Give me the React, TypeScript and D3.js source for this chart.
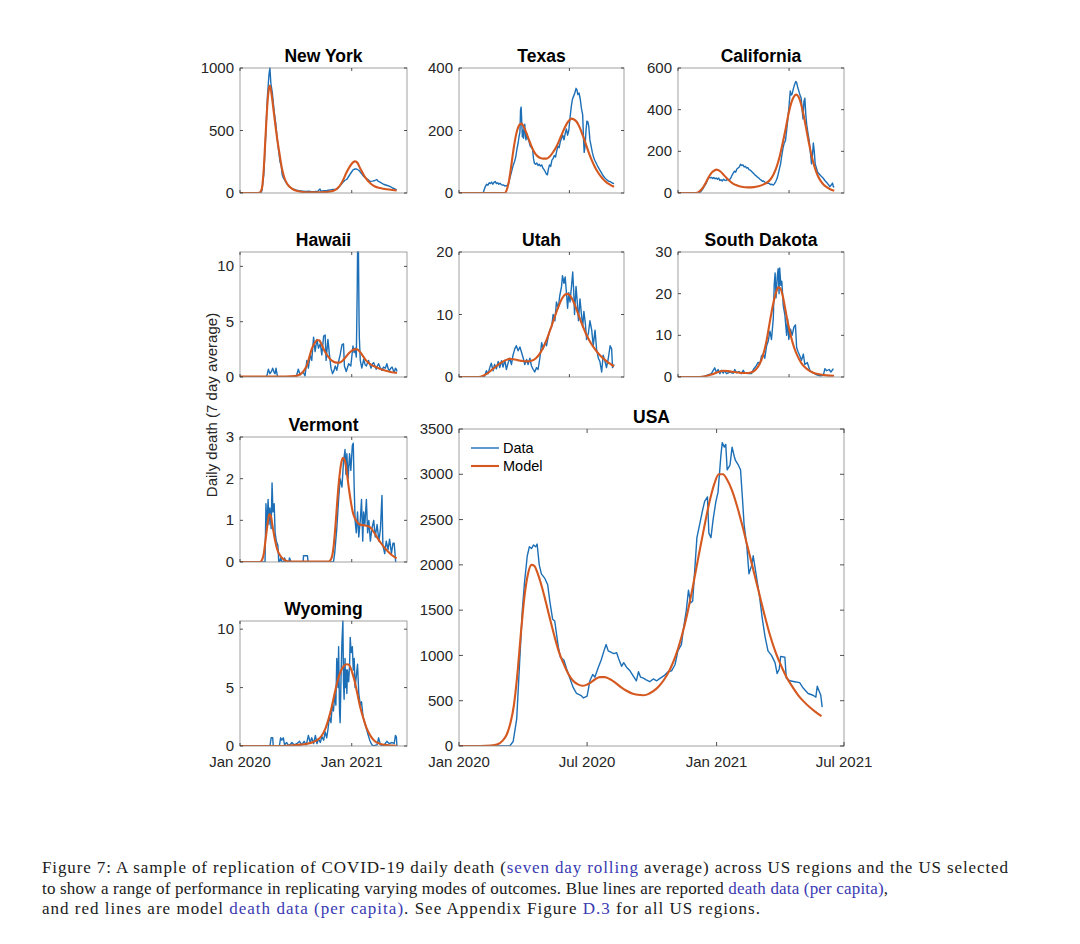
import React from 'react';
import * as d3 from 'd3';

type Pt = [number, number]; // [days since 1 Jan 2020, daily deaths]

// ---------------- DATA ----------------
const nyData: Pt[] = [[60,0],[68,0],[72,20],[78,150],[84,450],[90,780],[95,950],[98,1000],[101,880],[106,800],[112,650],[117,560],[122,430],[127,330],[131,250],[133,235],[135,220],[138,150],[142,120],[147,100],[153,75],[160,55],[168,40],[176,30],[185,22],[195,18],[205,15],[215,12],[225,14],[235,10],[245,12],[255,15],[262,32],[265,15],[275,18],[285,20],[295,25],[305,28],[317,30],[325,50],[335,80],[343,100],[350,110],[358,140],[366,170],[371,187],[377,192],[382,192],[390,180],[398,155],[404,135],[412,120],[420,105],[426,93],[434,95],[442,100],[448,108],[452,95],[460,85],[470,70],[480,62],[491,53],[500,40],[507,32],[513,25]];
const nyModel: Pt[] = [[0,0],[55,0],[62,2],[66,6],[72,40],[78,200],[84,470],[90,720],[95,840],[98,860],[104,780],[110,660],[115,560],[122,430],[129,320],[137,200],[147,110],[157,65],[170,35],[185,18],[200,10],[230,5],[265,6],[290,10],[306,18],[320,40],[330,70],[338,105],[348,160],[360,213],[370,245],[377,253],[385,240],[392,205],[399,173],[410,125],[426,80],[442,52],[459,40],[480,30],[500,24],[513,21]];

const txData: Pt[] = [[80,0],[84,12],[88,22],[92,28],[96,25],[100,33],[104,30],[108,35],[112,28],[116,34],[120,37],[124,30],[128,33],[132,28],[136,31],[140,27],[144,25],[148,26],[152,22],[156,24],[160,23],[164,30],[168,45],[172,60],[176,75],[180,90],[184,100],[188,115],[192,140],[196,160],[199,180],[202,195],[204,265],[206,275],[208,230],[210,180],[212,200],[214,175],[216,215],[218,220],[220,185],[222,170],[225,190],[228,175],[232,165],[236,150],[240,145],[244,140],[247,110],[250,95],[254,92],[258,96],[262,88],[266,92],[270,86],[274,90],[278,80],[282,75],[286,68],[290,60],[293,58],[296,75],[300,90],[304,85],[308,105],[312,110],[316,120],[320,115],[324,135],[328,150],[332,145],[336,165],[340,175],[344,185],[348,170],[352,190],[356,205],[360,185],[364,200],[368,240],[372,275],[376,300],[380,310],[384,320],[388,335],[391,330],[394,315],[398,320],[402,300],[406,270],[410,250],[413,170],[415,130],[418,150],[421,200],[424,230],[427,228],[430,215],[434,170],[438,150],[442,130],[446,115],[450,105],[455,95],[460,85],[466,75],[472,65],[478,55],[484,48],[490,42],[496,38],[502,36],[508,32],[514,30]];
const txModel: Pt[] = [[0,0],[150,0],[155,3],[160,15],[165,35],[170,65],[175,100],[180,135],[185,165],[190,190],[196,210],[202,220],[207,222],[213,215],[220,200],[230,175],[240,150],[250,130],[260,118],[270,112],[280,110],[290,110],[300,116],[310,128],[320,143],[330,163],[340,186],[350,208],[360,226],[367,234],[373,238],[380,236],[390,228],[400,210],[410,185],[420,158],[430,130],[440,105],[450,84],[460,67],[470,53],[480,42],[490,33],[500,27],[514,20]];

const caData: Pt[] = [[70,0],[76,8],[82,20],[88,35],[94,50],[98,65],[102,78],[106,72],[110,75],[114,70],[118,74],[122,68],[126,72],[130,66],[134,72],[138,60],[142,64],[146,58],[150,66],[154,62],[158,60],[162,66],[166,62],[170,64],[174,72],[178,85],[182,95],[186,105],[190,100],[194,115],[198,120],[202,125],[206,138],[210,132],[214,135],[218,125],[222,128],[226,120],[230,122],[234,112],[238,110],[242,104],[246,98],[250,92],[254,86],[258,82],[262,76],[266,72],[270,66],[274,62],[278,56],[282,58],[286,52],[290,50],[294,46],[298,48],[302,44],[306,40],[310,42],[314,38],[318,45],[322,55],[326,68],[330,90],[334,115],[338,140],[342,180],[346,215],[350,240],[354,250],[358,300],[362,355],[366,420],[370,490],[373,470],[376,475],[380,500],[384,520],[388,535],[391,530],[394,510],[398,490],[402,470],[406,455],[409,400],[412,355],[415,440],[418,455],[421,380],[424,330],[428,290],[432,255],[436,200],[440,140],[443,180],[446,240],[449,200],[452,140],[456,120],[460,100],[466,90],[472,80],[478,72],[484,60],[490,50],[496,40],[500,30],[505,38],[509,48],[512,30],[515,28]];
const caModel: Pt[] = [[0,0],[60,0],[66,3],[72,10],[78,18],[84,30],[90,45],[96,62],[102,78],[108,92],[114,102],[120,108],[126,112],[132,110],[140,103],[150,88],[160,72],[170,58],[180,46],[195,36],[210,30],[230,27],[250,28],[265,32],[280,40],[295,52],[305,66],[315,90],[325,125],[335,175],[345,240],[355,310],[365,385],[375,440],[383,465],[390,472],[397,462],[405,430],[413,380],[421,320],[430,250],[440,180],[450,125],[460,85],[470,58],[480,40],[490,28],[500,19],[510,13],[515,11]];

const hiData: Pt[] = [[0,0],[84,0],[88,0.1],[93,0.7],[98,0.3],[103,0.5],[107,0.8],[112,0.4],[115,0.3],[118,0.8],[123,0],[184,0],[191,0.7],[197,0.2],[206,0.5],[213,0.1],[219,1.5],[224,0.8],[230,2.0],[235,1.5],[241,3.6],[246,2.3],[252,3.4],[257,2.6],[263,3.0],[268,2.0],[274,3.7],[279,3.8],[282,1.5],[288,3.4],[293,2.0],[298,0.8],[303,0.3],[308,0.6],[312,1.0],[317,0.6],[323,1.4],[328,2.0],[334,2.9],[339,3.0],[342,1.0],[348,0.5],[356,1.2],[363,1.0],[370,2.8],[374,2.2],[377,2.6],[381,1.8],[384,8.0],[385,11.3],[388,11.3],[390,5.0],[391,3.5],[394,1.5],[399,0.8],[405,1.6],[410,1.1],[414,1.0],[418,1.3],[421,1.5],[429,0.8],[434,1.2],[438,1.3],[446,0.7],[450,1.0],[454,1.2],[460,0.8],[465,0.6],[470,0.9],[476,0.8],[481,1.2],[486,0.7],[490,0.6],[494,0.8],[498,0.9],[505,0.4],[509,0.8],[512,0.7],[514,0.5]];
const hiModel: Pt[] = [[0,0.05],[150,0.05],[180,0.08],[190,0.15],[200,0.3],[210,0.6],[219,1.05],[227,1.8],[235,2.55],[245,3.1],[253,3.35],[260,3.3],[268,2.9],[278,2.3],[290,1.8],[302,1.45],[315,1.3],[325,1.3],[335,1.45],[345,1.75],[355,2.1],[365,2.35],[375,2.5],[383,2.5],[392,2.3],[400,2.0],[410,1.6],[420,1.3],[430,1.1],[445,0.9],[460,0.72],[475,0.58],[490,0.48],[505,0.4],[514,0.36]];

const utData: Pt[] = [[0,0],[84,0],[85,0.2],[91,1.0],[96,0.5],[102,1.5],[107,2.2],[113,1.0],[118,2.0],[124,1.3],[130,2.5],[135,1.5],[141,2.6],[146,1.6],[152,2.7],[157,1.2],[163,2.3],[168,3.0],[174,2.0],[179,3.5],[185,4.5],[190,5.0],[196,4.2],[202,4.8],[207,4.0],[213,3.0],[218,2.0],[224,2.8],[229,2.0],[235,3.0],[240,1.8],[246,1.2],[251,0.8],[257,1.5],[262,1.2],[268,3.0],[274,5.5],[279,4.5],[285,5.5],[290,5.0],[296,6.5],[301,7.5],[307,8.0],[312,10.0],[318,9.0],[323,12.0],[329,11.0],[334,13.0],[340,14.5],[343,16.2],[348,15.0],[352,16.0],[357,13.0],[360,11.0],[364,13.5],[368,12.0],[373,14.5],[377,16.8],[380,14.0],[383,10.0],[388,14.5],[392,12.0],[396,9.0],[401,12.5],[405,10.5],[410,8.0],[414,10.5],[419,8.5],[423,6.0],[429,7.0],[434,9.0],[440,7.5],[445,5.0],[451,7.5],[456,4.5],[462,3.0],[467,2.5],[473,0.8],[478,3.5],[484,2.5],[489,1.5],[495,3.0],[501,5.0],[506,4.5],[509,1.5],[514,2.0]];
const utModel: Pt[] = [[0,0],[65,0],[80,0.2],[95,0.6],[110,1.2],[125,1.8],[140,2.3],[155,2.7],[168,2.9],[180,2.85],[195,2.7],[210,2.55],[225,2.5],[240,2.6],[255,3.0],[270,3.9],[285,5.3],[300,7.2],[315,9.3],[330,11.3],[342,12.6],[352,13.2],[360,13.3],[370,12.9],[380,12.0],[392,10.5],[405,8.8],[420,7.0],[435,5.6],[450,4.5],[465,3.6],[480,2.9],[495,2.3],[505,2.0],[514,1.7]];

const sdData: Pt[] = [[0,0],[80,0],[88,0.2],[99,0.5],[110,0.8],[116,1.6],[121,2.2],[127,1.0],[132,1.8],[138,0.8],[143,1.6],[149,0.9],[154,1.5],[160,0.8],[171,1.2],[182,0.9],[187,1.8],[193,1.0],[201,1.3],[209,0.8],[215,1.6],[220,1.0],[231,0.8],[242,0.8],[250,2.0],[256,2.5],[264,3.5],[270,3.2],[275,5.0],[281,5.5],[286,4.5],[292,7.5],[297,8.5],[303,11.0],[308,9.0],[314,14.0],[317,22.0],[320,25.0],[323,19.0],[327,24.0],[330,26.0],[333,20.0],[335,26.2],[339,22.0],[342,23.0],[347,17.0],[352,15.0],[358,10.0],[361,14.0],[365,9.0],[371,11.5],[376,10.0],[382,12.0],[387,12.5],[391,7.0],[396,6.0],[402,5.0],[407,4.0],[413,5.5],[418,3.0],[426,3.5],[435,1.5],[446,1.0],[457,0.5],[468,0.3],[479,0.4],[484,2.0],[490,1.5],[498,1.8],[504,1.2],[512,2.0]];
const sdModel: Pt[] = [[0,0],[70,0],[90,0.2],[110,0.6],[125,1.0],[140,1.4],[150,1.5],[165,1.4],[185,1.2],[205,1.0],[225,0.95],[240,1.1],[255,1.7],[268,3.0],[280,5.2],[292,8.8],[302,13],[312,17],[322,20],[330,21.5],[337,21.3],[345,19.5],[353,16.5],[362,13],[372,9.8],[382,7.2],[394,5.0],[406,3.4],[420,2.2],[435,1.4],[450,0.9],[470,0.6],[490,0.4],[514,0.3]];

const vtData: Pt[] = [[0,0],[82,0],[85,1.4],[88,0.8],[92,1.5],[95,0.9],[98,1.3],[102,0.8],[105,1.9],[108,1.2],[112,1.4],[115,0.7],[119,0.5],[124,0.4],[127,0],[130,0],[133,0.1],[138,0],[144,0],[146,0.1],[150,0],[160,0],[162,0.1],[167,0],[207,0],[208,0.15],[221,0.15],[223,0],[306,0],[310,0.2],[317,0.8],[323,1.5],[328,2.0],[334,1.8],[339,2.4],[344,2.7],[347,2.1],[350,2.6],[354,2.0],[359,2.6],[363,2.2],[368,2.8],[371,2.85],[374,1.8],[377,1.0],[381,0.7],[385,1.2],[389,0.6],[394,1.0],[398,1.5],[402,0.5],[405,1.2],[409,0.9],[414,1.5],[418,0.7],[422,1.0],[427,0.5],[432,0.8],[438,1.0],[443,0.6],[449,0.9],[455,0.5],[460,0.8],[465,1.6],[468,0.4],[474,0.2],[479,0.5],[485,0.3],[490,0.55],[496,0.2],[501,0.45],[505,0.45],[510,0],[512,0]];
const vtModel: Pt[] = [[0,0],[65,0],[72,0.05],[78,0.2],[84,0.55],[90,0.9],[96,1.15],[101,1.1],[107,0.85],[114,0.55],[122,0.3],[132,0.15],[145,0.05],[160,0.01],[290,0.01],[300,0.1],[307,0.4],[313,0.9],[319,1.5],[325,2.0],[331,2.35],[337,2.5],[343,2.45],[349,2.2],[356,1.8],[363,1.45],[371,1.15],[380,1.0],[392,0.9],[405,0.88],[418,0.86],[428,0.82],[438,0.72],[450,0.58],[462,0.45],[475,0.33],[488,0.23],[500,0.15],[513,0.09]];

const wyData: Pt[] = [[0,0],[98,0],[102,0.7],[107,0.7],[109,0],[129,0],[133,0.7],[137,0.5],[142,0.7],[146,0.1],[153,0.3],[160,0],[170,0.3],[177,0.1],[186,0.2],[195,0.4],[202,0.1],[210,0.4],[217,0.1],[224,0.9],[230,0.3],[235,0.7],[241,0.2],[247,0.9],[252,0.2],[257,0.6],[263,0.3],[268,0.8],[274,0.5],[279,1.2],[284,0.7],[288,1.4],[293,2.5],[298,2.0],[302,3.5],[306,3.0],[311,4.5],[314,3.5],[317,7.5],[321,5.0],[323,8.5],[326,3.0],[328,2.0],[331,6.0],[334,9.0],[337,10.7],[339,5.5],[341,4.0],[344,7.5],[346,5.0],[348,6.5],[350,4.5],[352,6.5],[356,5.5],[359,7.0],[361,9.3],[364,8.0],[368,8.5],[371,6.5],[374,7.5],[377,5.0],[381,6.0],[385,7.0],[389,4.5],[394,3.5],[398,3.8],[403,2.5],[408,2.0],[414,1.5],[419,1.0],[425,0.5],[430,0.2],[435,0],[449,0.1],[454,0.7],[460,0.1],[470,0],[481,0.4],[489,0.2],[498,0.3],[505,0.2],[509,0.9],[512,0.8],[514,0]];
const wyModel: Pt[] = [[0,0],[140,0],[170,0.05],[200,0.12],[220,0.2],[240,0.35],[255,0.55],[268,0.9],[280,1.5],[290,2.3],[300,3.3],[310,4.5],[320,5.6],[330,6.4],[340,6.85],[350,7.0],[357,6.95],[365,6.5],[375,5.6],[385,4.4],[395,3.2],[405,2.3],[415,1.5],[428,0.85],[440,0.45],[460,0.18],[480,0.08],[500,0.04],[514,0.02]];

const usData: Pt[] = [[0,0],[72,0],[77,50],[82,300],[86,900],[90,1500],[93,1800],[97,2100],[100,2200],[103,2180],[106,2220],[109,2200],[111,2230],[114,2000],[117,1900],[122,1850],[126,1780],[129,1600],[133,1400],[136,1380],[141,1100],[144,980],[149,950],[153,850],[157,760],[162,650],[167,580],[173,560],[177,530],[182,550],[186,720],[190,790],[193,760],[198,870],[202,950],[206,1050],[209,1120],[212,1050],[217,1030],[220,1020],[224,1030],[227,960],[231,880],[234,920],[238,870],[243,830],[247,780],[252,720],[255,820],[258,760],[262,750],[266,730],[271,710],[276,740],[281,720],[286,750],[292,780],[297,820],[302,830],[307,900],[311,1050],[316,1120],[319,1300],[323,1500],[326,1720],[329,1580],[332,1600],[335,1950],[338,2300],[342,2450],[346,2600],[349,2700],[353,2750],[355,2350],[358,2300],[361,2500],[365,2700],[368,2800],[372,3200],[374,3350],[377,3300],[379,3330],[381,3050],[385,3100],[388,3300],[391,3200],[393,3150],[397,3100],[400,3050],[403,2700],[405,2450],[409,2200],[412,1900],[416,2000],[418,2100],[420,2000],[424,1800],[427,1650],[431,1400],[435,1200],[439,1050],[444,1000],[449,920],[452,800],[455,850],[457,990],[463,980],[465,750],[470,720],[477,710],[484,700],[489,640],[496,580],[503,560],[507,540],[509,660],[512,600],[514,560],[516,430]];
const usModel: Pt[] = [[0,0],[30,0],[45,5],[55,20],[62,60],[68,130],[73,250],[78,450],[83,800],[88,1250],[93,1650],[98,1900],[103,2000],[107,1990],[112,1900],[118,1750],[124,1570],[130,1380],[136,1200],[142,1040],[148,920],[155,800],[162,720],[169,680],[175,665],[181,675],[187,700],[194,740],[200,760],[207,760],[214,740],[222,700],[230,650],[238,610],[246,580],[254,565],[261,560],[268,570],[276,605],[284,660],[292,740],[300,850],[308,1000],[316,1200],[324,1450],[332,1750],[340,2080],[348,2400],[356,2700],[363,2900],[369,3000],[375,3000],[381,2940],[388,2820],[395,2650],[402,2450],[410,2200],[418,1950],[426,1700],[434,1450],[442,1220],[450,1030],[458,880],[466,750],[474,650],[482,560],[490,490],[498,430],[506,380],[515,330]];

const nyYTicks = [0, 500, 1000];
const txYTicks = [0, 200, 400];
const caYTicks = [0, 200, 400, 600];
const hiYTicks = [0, 5, 10];
const utYTicks = [0, 10, 20];
const sdYTicks = [0, 10, 20, 30];
const vtYTicks = [0, 1, 2, 3];
const wyYTicks = [0, 5, 10];
const usYTicks = [0, 500, 1000, 1500, 2000, 2500, 3000, 3500];

const smallXTicks = ['2020-01-01', '2021-01-01'];
const usXTicks = ['2020-01-01', '2020-07-01', '2021-01-01', '2021-07-01'];
const xDomain = ['2020-01-01', '2021-07-01'];

const legendLabels = ['Data', 'Model'];

// ---------------- STYLE ----------------
const BLUE = '#1c6fb6';
const ORANGE = '#d4581f';
const AXIS = '#262626';
const FONT = '"Liberation Sans", Arial, Helvetica, sans-serif';
const DAY_MS = 864e5;
const toDate = (s: string) => new Date(s + 'T00:00:00Z');
const dayToDate = (d: number) => new Date(toDate(xDomain[0]).getTime() + d * DAY_MS);
const fmt = d3.utcFormat('%b %Y');

type PanelProps = {
  title: string; data: Pt[]; model: Pt[]; yMax: number; yTicks: number[];
  box: [number, number, number, number]; xTicks: string[]; xLabels: boolean;
  legend?: boolean; tick: number; id: string;
};

function Panel({ title, data, model, yMax, yTicks, box, xTicks, xLabels, legend, tick, id }: PanelProps) {
  const [x0, y0, x1, y1] = box;
  const x = d3.scaleUtc().domain(xDomain.map(toDate)).range([x0, x1]);
  const y = d3.scaleLinear().domain([0, yMax]).range([y1, y0]);
  const line = d3.line<Pt>().x(p => x(dayToDate(p[0]))).y(p => y(p[1]));
  const smooth = d3.line<Pt>().x(p => x(dayToDate(p[0]))).y(p => y(p[1])).curve(d3.curveMonotoneX);
  const fmtY = (v: number) => String(v);
  return (
    <g>
      <defs>
        <clipPath id={'clip-' + id}><rect x={x0} y={y0 - 1} width={x1 - x0} height={y1 - y0 + 1} /></clipPath>
      </defs>
      <g clipPath={`url(#clip-${id})`}>
        <path d={line(data) || ''} fill="none" stroke={BLUE} strokeWidth={1.4} strokeLinejoin="round" />
        <path d={smooth(model) || ''} fill="none" stroke={ORANGE} strokeWidth={2.1} strokeLinejoin="round" />
      </g>
      <rect x={x0} y={y0} width={x1 - x0} height={y1 - y0} fill="none" stroke="#8a8a8a" strokeWidth={0.8} />
      {yTicks.map(t => (
        <g key={'y' + t}>
          <line x1={x0} x2={x0 + tick} y1={y(t)} y2={y(t)} stroke={AXIS} strokeWidth={0.8} />
          <line x1={x1} x2={x1 - tick} y1={y(t)} y2={y(t)} stroke={AXIS} strokeWidth={0.8} />
          <text x={x0 - 6} y={y(t)} dy="0.34em" textAnchor="end" fontSize={15} fill={AXIS} fontFamily={FONT}>{fmtY(t)}</text>
        </g>
      ))}
      {xTicks.map(s => {
        const xx = x(toDate(s));
        return (
          <g key={'x' + s}>
            <line x1={xx} x2={xx} y1={y1} y2={y1 - tick} stroke={AXIS} strokeWidth={0.8} />
            <line x1={xx} x2={xx} y1={y0} y2={y0 + tick} stroke={AXIS} strokeWidth={0.8} />
            {xLabels && <text x={xx} y={y1 + 21} textAnchor="middle" fontSize={15} fill={AXIS} fontFamily={FONT}>{fmt(toDate(s))}</text>}
          </g>
        );
      })}
      <text x={(x0 + x1) / 2} y={y0 - 6} textAnchor="middle" fontSize={17.5} fontWeight="bold" fill="#000" fontFamily={FONT}>{title}</text>
      {legend && legendLabels.map((lab, i) => (
        <g key={lab}>
          <line x1={x0 + 12} x2={x0 + 40} y1={y0 + 19 + i * 18} y2={y0 + 19 + i * 18} stroke={i === 0 ? BLUE : ORANGE} strokeWidth={i === 0 ? 1.4 : 2.1} />
          <text x={x0 + 44} y={y0 + 19 + i * 18} dy="0.36em" fontSize={14.5} fill="#000" fontFamily={FONT}>{lab}</text>
        </g>
      ))}
    </g>
  );
}

const captionLines: { parts: { t: string; link?: boolean }[]; width: number }[] = [
  { parts: [{ t: 'Figure 7: A sample of replication of COVID-19 daily death (' }, { t: 'seven day rolling', link: true }, { t: ' average) across US regions and the US selected' }], width: 966 },
  { parts: [{ t: 'to show a range of performance in replicating varying modes of outcomes. Blue lines are reported ' }, { t: 'death data (per capita)', link: true }, { t: ',' }], width: 846 },
  { parts: [{ t: 'and red lines are model ' }, { t: 'death data (per capita)', link: true }, { t: '. See Appendix Figure ' }, { t: 'D.3', link: true }, { t: ' for all US regions.' }], width: 718 },
];

export default function App() {
  const C1: [number, number] = [240, 407];
  const C2: [number, number] = [459, 624];
  const C3: [number, number] = [678, 844];
  const R = [[68, 193], [252, 377], [437, 562], [621, 746]];
  return (
    <svg width={1080} height={944} viewBox="0 0 1080 944" style={{ position: 'absolute', left: 0, top: 0, background: '#fff' }}>
      <rect x={0} y={0} width={1080} height={944} fill="#fff" />
      <Panel id="ny" title="New York" data={nyData} model={nyModel} yMax={1000} yTicks={nyYTicks} box={[C1[0], R[0][0], C1[1], R[0][1]]} xTicks={smallXTicks} xLabels={false} tick={3} />
      <Panel id="tx" title="Texas" data={txData} model={txModel} yMax={400} yTicks={txYTicks} box={[C2[0], R[0][0], C2[1], R[0][1]]} xTicks={smallXTicks} xLabels={false} tick={3} />
      <Panel id="ca" title="California" data={caData} model={caModel} yMax={600} yTicks={caYTicks} box={[C3[0], R[0][0], C3[1], R[0][1]]} xTicks={smallXTicks} xLabels={false} tick={3} />
      <Panel id="hi" title="Hawaii" data={hiData} model={hiModel} yMax={11.3} yTicks={hiYTicks} box={[C1[0], R[1][0], C1[1], R[1][1]]} xTicks={smallXTicks} xLabels={false} tick={3} />
      <Panel id="ut" title="Utah" data={utData} model={utModel} yMax={20} yTicks={utYTicks} box={[C2[0], R[1][0], C2[1], R[1][1]]} xTicks={smallXTicks} xLabels={false} tick={3} />
      <Panel id="sd" title="South Dakota" data={sdData} model={sdModel} yMax={30} yTicks={sdYTicks} box={[C3[0], R[1][0], C3[1], R[1][1]]} xTicks={smallXTicks} xLabels={false} tick={3} />
      <Panel id="vt" title="Vermont" data={vtData} model={vtModel} yMax={3} yTicks={vtYTicks} box={[C1[0], R[2][0], C1[1], R[2][1]]} xTicks={smallXTicks} xLabels={false} tick={3} />
      <Panel id="wy" title="Wyoming" data={wyData} model={wyModel} yMax={10.7} yTicks={wyYTicks} box={[C1[0], R[3][0], C1[1], R[3][1]]} xTicks={smallXTicks} xLabels={true} tick={3} />
      <Panel id="us" title="USA" data={usData} model={usModel} yMax={3500} yTicks={usYTicks} box={[C2[0], 429, C3[1], 746]} xTicks={usXTicks} xLabels={true} legend tick={4} />
      <text transform="translate(212,405) rotate(-90)" textAnchor="middle" dy="0.36em" fontSize={15} fill={AXIS} fontFamily={FONT}>Daily death (7 day average)</text>
      {captionLines.map((ln, i) => (
        <text key={i} x={42} y={873 + i * 20.5} fontSize={17} fill="#1a1a1a" fontFamily='"Liberation Serif", "Times New Roman", serif' textLength={ln.width} lengthAdjust="spacing">
          {ln.parts.map((p, j) => <tspan key={j} fill={p.link ? '#3a3ab2' : '#1a1a1a'}>{p.t}</tspan>)}
        </text>
      ))}
    </svg>
  );
}
